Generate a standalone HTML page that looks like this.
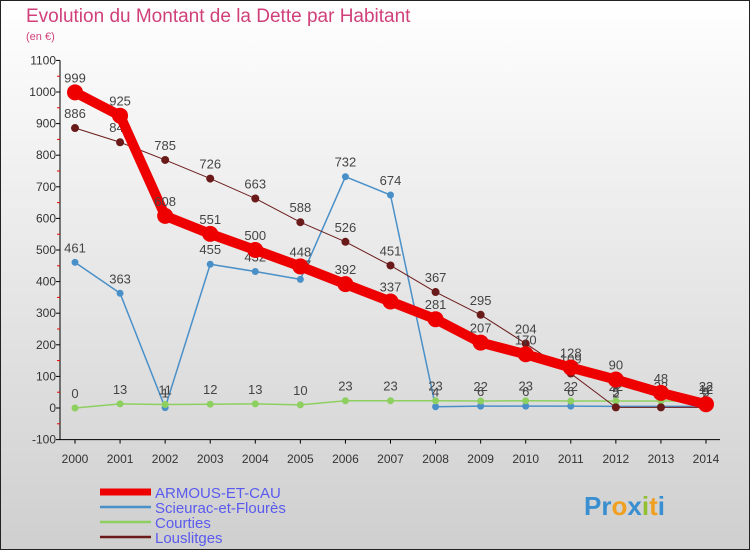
<!DOCTYPE html>
<html><head><meta charset="utf-8"><style>
body{margin:0;width:750px;height:550px;overflow:hidden;font-family:"Liberation Sans",sans-serif}
</style></head><body>
<svg id="c" width="750" height="550" xmlns="http://www.w3.org/2000/svg">
<defs><linearGradient id="bg" x1="0" y1="0" x2="0" y2="1"><stop offset="0" stop-color="#ffffff"/><stop offset="1" stop-color="#cfcfcf"/></linearGradient></defs>
<rect x="0.5" y="0.5" width="749" height="549" fill="url(#bg)" stroke="#222"/>
<text x="26" y="22" font-size="19" fill="#d0407a">Evolution du Montant de la Dette par Habitant</text>
<text x="26" y="40" font-size="11" fill="#d0407a">(en €)</text>
<g id="axes"></g><g id="series"></g><g id="legend"></g>
<text x="584" y="515" font-size="26" font-weight="bold" fill="#3a8fd0">Pr<tspan fill="#f0a020">o</tspan><tspan fill="#3a8fd0">x</tspan><tspan fill="#90c030">i</tspan><tspan fill="#f0a020">t</tspan><tspan fill="#3a8fd0">i</tspan></text>
</svg>
<script>
const years=[2000,2001,2002,2003,2004,2005,2006,2007,2008,2009,2010,2011,2012,2013,2014];
const yTicks=[-100,0,100,200,300,400,500,600,700,800,900,1000,1100];
const armous=[999,925,608,551,500,448,392,337,281,207,170,128,90,48,12];
const scieurac=[461,363,1,455,432,407,732,674,4,6,6,6,5,5,5];
const courties=[0,13,11,12,13,10,23,23,23,22,23,22,22,22,22];
const louslitges=[886,841,785,726,663,588,526,451,367,295,204,109,2,2,2];
const names=["ARMOUS-ET-CAU","Scieurac-et-Flourès","Courties","Louslitges"];
const NS="http://www.w3.org/2000/svg";
const X=i=>75+i*(706-75)/14;
const Y=v=>408-v*0.316;
function mk(t,a,p){const e=document.createElementNS(NS,t);for(const k in a)e.setAttribute(k,a[k]);p.appendChild(e);return e;}
const ax=document.getElementById('axes');
let l=mk('line',{x1:60,y1:Y(1100),x2:60,y2:Y(-100),stroke:'#000'},ax);


l=mk('line',{x1:60,y1:Y(-100),x2:720,y2:Y(-100),stroke:'#000'},ax);


yTicks.forEach(v=>{
 mk('line',{x1:56,y1:Y(v),x2:60,y2:Y(v),stroke:'#000'},ax);
 if(v<1100)mk('line',{x1:57,y1:Y(v+50),x2:60,y2:Y(v+50),stroke:'#e00'},ax);
 const t=mk('text',{x:56,y:Y(v)+4,'font-size':12,fill:'#333','text-anchor':'end'},ax);t.textContent=v;
 
 
});
years.forEach((y,i)=>{
 mk('line',{x1:X(i),y1:Y(-100),x2:X(i),y2:Y(-100)+4,stroke:'#000'},ax);
 const t=mk('text',{x:X(i),y:463,'font-size':12,fill:'#333','text-anchor':'middle'},ax);t.textContent=y;
 
 
});
const S=document.getElementById('series');
const cfg=[[armous,'#ee0000',10,8],[scieurac,'#4a90c8',1.5,3.5],[courties,'#8ed060',1.5,3.5],[louslitges,'#6b1a1a',1,4]];
const order=[1,2,3,0];
order.forEach(k=>{
 const [d,c,w,r]=cfg[k];
 const g=mk('g',{},S);
 
 
 mk('polyline',{points:d.map((v,i)=>X(i)+','+Y(v)).join(' '),fill:'none',stroke:c,'stroke-width':w,'stroke-linejoin':'round'},g);
 d.forEach((v,i)=>{
  const p=mk('circle',{cx:X(i),cy:Y(v),r:r,fill:c},g);
  
  
  const t=mk('text',{x:X(i),y:Y(v)-10,'font-size':13,fill:'#444','text-anchor':'middle'},g);t.textContent=v;
 });
});
const L=document.getElementById('legend');
cfg.forEach((c,k)=>{
 const y=492+k*15;
 mk('line',{x1:100,y1:y,x2:151,y2:y,stroke:c[1],'stroke-width':k==0?7:2.5},L);
 const t=mk('text',{x:155,y:y+6,'font-size':15,fill:'#5a5aee'},L);t.textContent=names[k];
 
 
});
</script>
</body></html>
